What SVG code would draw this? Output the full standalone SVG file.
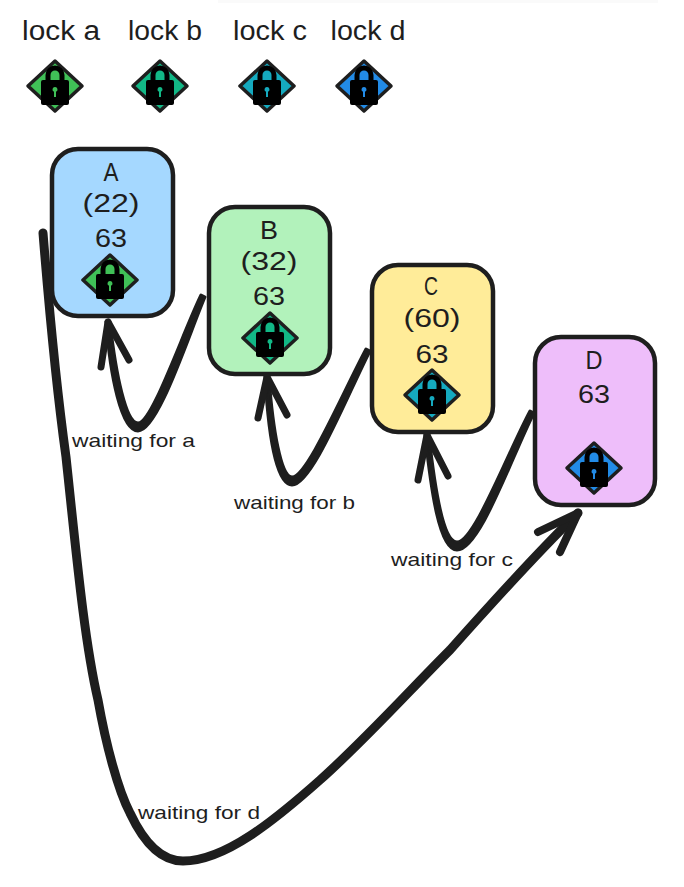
<svg xmlns="http://www.w3.org/2000/svg" width="684" height="887" viewBox="0 0 684 887">
<style>
text{font-family:"Liberation Sans",Arial,sans-serif;fill:#1e1e1e;text-anchor:middle}
.t{font-size:25px}
.h{font-size:27px}
.w{font-size:19px}
.n{stroke:#1e1e1e;stroke-width:4.500}
.c{fill:none;stroke:#1e1e1e;stroke-linecap:round;stroke-linejoin:round}
.f{fill:#1e1e1e;stroke:#1e1e1e;stroke-width:3;stroke-linejoin:round}
</style>
<defs>
<symbol id="lock" overflow="visible" viewBox="-30 -30 60 60" width="60" height="60">
<path d="M0-25 L27 0 L0 25 L-27 0Z" fill="currentColor" stroke="#1e1e1e" stroke-width="3.500" stroke-linejoin="round"/>
<path d="M-7-3 V-11 a7 7 0 0 1 14 0 V-3" fill="none" stroke="#000" stroke-width="5"/>
<rect x="-14" y="-6" width="28" height="25" rx="2" fill="#000"/>
<path d="M0 1 a2.500 2.500 0 0 1 1 4.800 V11 H-1 V5.800 A2.500 2.500 0 0 1 0 1Z" fill="currentColor"/>
</symbol>
</defs>
<rect width="684" height="887" fill="#fff"/>
<rect x="218" y="0" width="440" height="3" fill="#fafafa"/>
<g id="legend-a"><text class="h" x="61" y="40" textLength="78" lengthAdjust="spacingAndGlyphs">lock a</text><use href="#lock" x="25" y="56" color="#40c057"/></g>
<g id="legend-b"><text class="h" x="165" y="40" textLength="74" lengthAdjust="spacingAndGlyphs">lock b</text><use href="#lock" x="130" y="56" color="#12b886"/></g>
<g id="legend-c"><text class="h" x="270" y="40" textLength="74" lengthAdjust="spacingAndGlyphs">lock c</text><use href="#lock" x="237" y="56" color="#15aabf"/></g>
<g id="legend-d"><text class="h" x="368" y="40" textLength="75" lengthAdjust="spacingAndGlyphs">lock d</text><use href="#lock" x="334" y="56" color="#228be6"/></g>
<g id="node-a"><rect class="n" x="52" y="149" width="121" height="167" rx="26" fill="#a5d8ff"/>
<text class="t" x="111" y="181" textLength="15" lengthAdjust="spacingAndGlyphs">A</text><text class="t" x="111" y="212" textLength="57" lengthAdjust="spacingAndGlyphs">(22)</text><text class="t" x="111" y="247" textLength="32" lengthAdjust="spacingAndGlyphs">63</text><use href="#lock" x="80" y="250" color="#40c057"/></g>
<g id="node-b"><rect class="n" x="209" y="207" width="121" height="167" rx="26" fill="#b2f2bb"/>
<text class="t" x="269" y="239" textLength="18" lengthAdjust="spacingAndGlyphs">B</text><text class="t" x="269" y="270" textLength="57" lengthAdjust="spacingAndGlyphs">(32)</text><text class="t" x="269" y="305" textLength="32" lengthAdjust="spacingAndGlyphs">63</text><use href="#lock" x="240" y="308" color="#12b886"/></g>
<g id="node-c"><rect class="n" x="372" y="265" width="121" height="167" rx="26" fill="#ffec99"/>
<text class="t" x="431" y="295" textLength="14" lengthAdjust="spacingAndGlyphs">C</text><text class="t" x="432" y="327" textLength="57" lengthAdjust="spacingAndGlyphs">(60)</text><text class="t" x="432" y="363" textLength="33" lengthAdjust="spacingAndGlyphs">63</text><use href="#lock" x="402" y="365" color="#15aabf"/></g>
<g id="node-d"><rect class="n" x="535" y="337" width="120" height="168" rx="26" fill="#eebefa"/>
<text class="t" x="594" y="369" textLength="17" lengthAdjust="spacingAndGlyphs">D</text><text class="t" x="594" y="403" textLength="32" lengthAdjust="spacingAndGlyphs">63</text><use href="#lock" x="564" y="438" color="#228be6"/></g>
<g id="connectors">
<path class="f" d="M205 297 C188 337 158 431 138 431 C121 431 110 375 106 322 L110 322 C116 375 126 423 138 423 C152 423 182 334 201 295Z"/>
<path class="c" stroke-width="7" d="M108 322 L101 367 M108 322 L129 360"/>
<path class="f" d="M370 351 C347 396 312 485 292 485 C275 485 268 430 265 377 L269 377 C273 430 281 477 292 477 C307 477 342 394 366 349Z"/>
<path class="c" stroke-width="7" d="M267 377 L258 418 M267 377 L287 415"/>
<path class="f" d="M534 413 C512 456 480 550 457 550 C439 550 431 490 425 435 L429 435 C435 490 444 542 457 542 C474 542 507 454 530 411Z"/>
<path class="c" stroke-width="7" d="M427 435 L418 480 M427 435 L448 476"/>
<g class="c" stroke-width="9">
<path d="M43 233 C50 320 56 385 66 457 C76 550 84 640 98 700 C106 745 118 790 130 813 C145 845 162 861 183 861 C225 861 275 820 320 780 C365 740 410 690 450 650 C490 605 535 555 578 513"/>
<path stroke-width="8" d="M578 513 L538 532 M578 513 L560 552"/>
</g>
</g>
<g id="labels">
<text class="w" x="133.500" y="447" textLength="123" lengthAdjust="spacingAndGlyphs">waiting for a</text>
<text class="w" x="294.500" y="509" textLength="121" lengthAdjust="spacingAndGlyphs">waiting for b</text>
<text class="w" x="452" y="566" textLength="122" lengthAdjust="spacingAndGlyphs">waiting for c</text>
<text class="w" x="199" y="819" textLength="122" lengthAdjust="spacingAndGlyphs">waiting for d</text>
</g>
</svg>
